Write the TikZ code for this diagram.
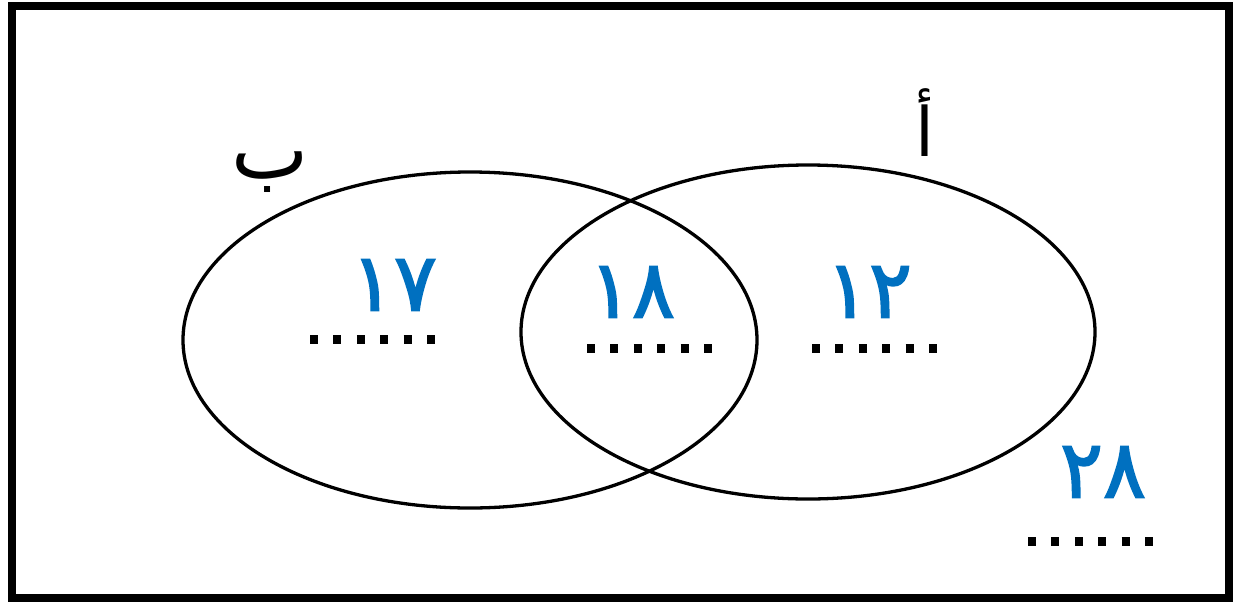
\documentclass[tikz,border=0pt]{standalone}
\usepackage{fontspec}
\newfontfamily\arabicfont[Script=Arabic]{DejaVu Sans}
\newfontfamily\numfont[Script=Arabic,FakeBold=2.2]{DejaVu Sans}
\TeXXeTstate=1
\definecolor{numblue}{HTML}{0070C0}
\begin{document}
\begin{tikzpicture}[x=1pt,y=-1pt,
  setline/.style={line width=3.3pt,black},
  numlabel/.style={text=numblue,font=\numfont\fontsize{80}{82}\selectfont,inner sep=0pt,anchor=center},
  setname/.style={font=\arabicfont\fontsize{68}{70}\selectfont,inner sep=0pt,anchor=center},
  blanks/.style={line width=9pt,dash pattern=on 8pt off 15.4pt}]
\useasboundingbox (0,0) rectangle (1235,603);
\draw[line width=8pt] (12,6) rectangle (1229,598);
% sets
\draw[setline] (470,340) ellipse [x radius=287, y radius=168];
\draw[setline] (808,332) ellipse [x radius=287, y radius=167];
% set names
\node[setname,font=\arabicfont\fontsize{82}{84}\selectfont] (nameB) at (270,172) {\beginR ب\endR};
\node[setname] (nameA) at (925,123) {\beginR أ\endR};
% numbers
\node[numlabel] (n17) at (394,285) {١٧};
\node[numlabel] (n18) at (632,292) {١٨};
\node[numlabel] (n12) at (869,292) {١٢};
\node[numlabel] (n28) at (1103,472) {٢٨};
% blanks
\coordinate (d17a) at (310,339); \coordinate (d17b) at (436,339);
\coordinate (d18a) at (587,348); \coordinate (d18b) at (713,348);
\coordinate (d12a) at (812,348); \coordinate (d12b) at (938,348);
\coordinate (d28a) at (1028,541); \coordinate (d28b) at (1154,541);
\draw[blanks] (d17a) -- (d17b);
\draw[blanks] (d18a) -- (d18b);
\draw[blanks] (d12a) -- (d12b);
\draw[blanks] (d28a) -- (d28b);
\end{tikzpicture}
\end{document}
